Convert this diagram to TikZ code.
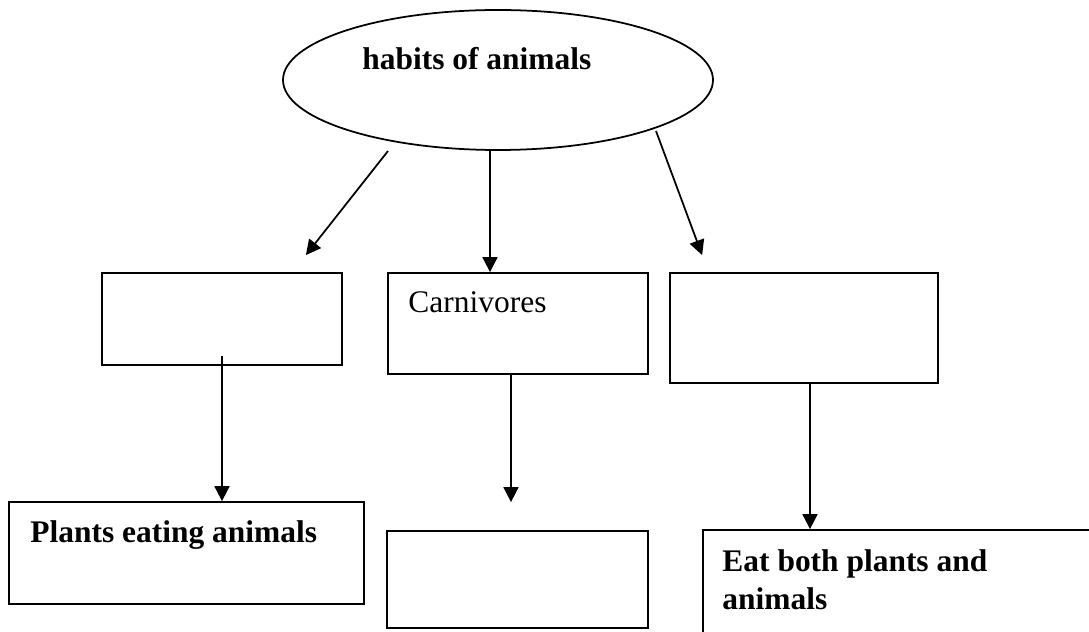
\documentclass[tikz,border=0pt]{standalone}
\usepackage{fontspec}
\setmainfont{Liberation Serif}
\usepackage{tikz}
\usetikzlibrary{shapes.geometric,arrows.meta}
\newcommand{\boxfont}{\fontsize{17.9}{21.6}\selectfont}

\begin{document}
\begin{tikzpicture}[
		box/.style={rectangle,draw,line width=1pt,inner sep=0},
		lbl/.style={anchor=base west,inner sep=0,font=\boxfont\bfseries},
		arr/.style={line width=1pt,-{Triangle[length=0.3cm,width=0.3cm]}}
	]
		\clip (0,0) rectangle (21.78,12.64);
		% Top ellipse
		\node[ellipse,draw,line width=1pt,minimum width=8.6cm,minimum height=2.8cm] (habits) at (9.96,11.04) {};
		\node[lbl] (habitsText) at ([shift={(-2.72,0.2)}]habits.center) {habits of animals};

		% Middle row
		\node[box,minimum width=4.8cm,minimum height=1.84cm] (herb) at (4.44,6.26) {};
		\node[box,minimum width=5.2cm,minimum height=2.02cm] (carn) at (10.36,6.17) {};
		\node[box,minimum width=5.36cm,minimum height=2.2cm] (omni) at (16.08,6.08) {};
		\node[lbl,font=\boxfont] (carnText) at ([shift={(0.42,-0.80)}]carn.north west) {Carnivores};

		% Bottom row
		\node[box,minimum width=7.1cm,minimum height=2.04cm] (plants) at (3.73,1.58) {};
		\node[box,minimum width=5.22cm,minimum height=1.94cm] (flesh) at (10.35,1.05) {};
		\node[box,minimum width=8.94cm,minimum height=2.84cm] (both) at (18.53,0.62) {};
		\node[lbl] (plantsText) at ([shift={(0.44,-0.82)}]plants.north west) {Plants eating animals};
		% base of a two line node sits on its last line
		\node[lbl,align=left] (bothText) at ([shift={(0.40,-1.60)}]both.north west) {Eat both plants and\\animals};

		% Arrows from the ellipse
		\coordinate (a2s) at ([xshift=-0.16cm]habits.south);
		\draw[arr] ([shift={(-2.2,-1.42)}]habits.center) -- ([shift={(-0.74,0.34)}]herb.north east);
		\draw[arr] (a2s) -- (a2s |- carn.north);
		\draw[arr] ([shift={(3.16,-1.02)}]habits.center) -- ([shift={(0.66,0.34)}]omni.north west);

		% Arrows down to the bottom row
		\coordinate (b1s) at ([yshift=0.2cm]herb.south);
		\coordinate (b2s) at ([xshift=-0.14cm]carn.south);
		\coordinate (b2e) at ([yshift=0.56cm]b2s |- flesh.north);
		\coordinate (b3s) at ([xshift=0.12cm]omni.south);
		\draw[arr] (b1s) -- (b1s |- plants.north);
		\draw[arr] (b2s) -- (b2e);
		\draw[arr] (b3s) -- (b3s |- both.north);
	\end{tikzpicture}
\end{document}
